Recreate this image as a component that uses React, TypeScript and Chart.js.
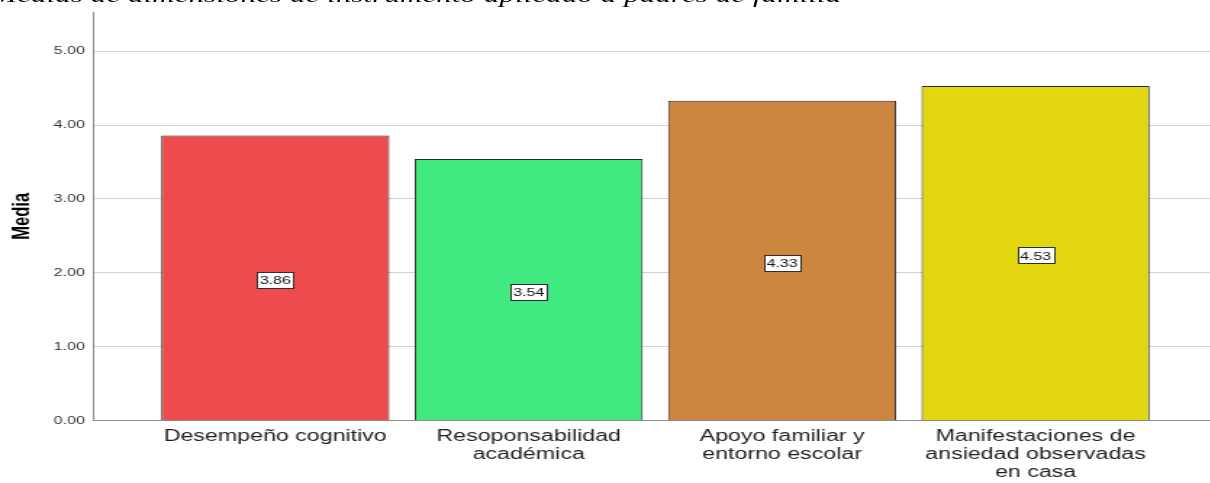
import React, { useEffect, useRef } from "react";
import { Chart, registerables } from "chart.js";

Chart.register(...registerables);

// ---- data ----
const categories: string[][] = [
  ["Desempeño cognitivo"],
  ["Resoponsabilidad", "académica"],
  ["Apoyo familiar y", "entorno escolar"],
  ["Manifestaciones de", "ansiedad observadas", "en casa"],
];
const means: number[] = [3.86, 3.54, 4.33, 4.53];
const barColors: string[] = ["#EE4B4E", "#41EA81", "#CC863F", "#E2D60F"];
const yTickValues: number[] = [0, 1, 2, 3, 4, 5];
const yAxisTitle = "Media";
const chartTitle = "Medias de dimensiones de instrumento aplicado a padres de familia";

// ---- layout ----
const STRETCH = 1.45; // the reference image is stretched horizontally
const W = 840;
const H = 483;
const FONT = '"Liberation Sans", Arial, sans-serif';

const valueLabels = {
  id: "valueLabels",
  afterDatasetsDraw(chart: any) {
    const ctx = chart.ctx as CanvasRenderingContext2D;
    const meta = chart.getDatasetMeta(0);
    ctx.save();
    ctx.font = `11px ${FONT}`;
    meta.data.forEach((bar: any, i: number) => {
      const text = means[i].toFixed(2);
      const cx = bar.x;
      const cy = (bar.y + bar.base) / 2 + 2.5;
      const w = Math.round(ctx.measureText(text).width + 4);
      const h = 16;
      const left = Math.round(cx - w / 2) + 0.5;
      const top = Math.round(cy - h / 2) + 0.5;
      ctx.fillStyle = "#ffffff";
      ctx.fillRect(left, top, w, h);
      ctx.strokeStyle = "#2e2e2e";
      ctx.lineWidth = 1;
      ctx.strokeRect(left, top, w, h);
      ctx.fillStyle = "#111111";
      ctx.textAlign = "center";
      ctx.textBaseline = "middle";
      ctx.fillText(text, cx, cy + 1);
    });
    ctx.restore();
  },
};

export default function App() {
  const canvasRef = useRef<HTMLCanvasElement | null>(null);

  useEffect(() => {
    if (!canvasRef.current) return;
    const chart = new Chart(canvasRef.current, {
      type: "bar",
      data: {
        datasets: [
          {
            data: means.map((v, i) => ({ x: i + 1, y: v })),
            backgroundColor: barColors,
            borderColor: "#2a2a2a",
            borderWidth: 1,
            barPercentage: 0.9,
            categoryPercentage: 1,
          },
        ],
      },
      options: {
        animation: false,
        responsive: false,
        devicePixelRatio: 1,
        layout: { padding: { top: 11, left: 0, right: 0, bottom: 0 } },
        plugins: {
          legend: { display: false },
          tooltip: { enabled: false },
          title: { display: false },
        },
        scales: {
          x: {
            type: "linear",
            min: 0.28,
            max: 4.72,
            offset: false,
            grid: { display: false, drawTicks: false, offset: false },
            border: { display: true, color: "#8a8a8a", width: 1 },
            afterBuildTicks: (scale: any) => {
              scale.ticks = categories.map((_, i) => ({ value: i + 1 }));
            },
            afterFit: (scale: any) => {
              scale.height = H - 420.5;
            },
            ticks: {
              autoSkip: false,
              maxRotation: 0,
              minRotation: 0,
              padding: 7,
              color: "#1e1e1e",
              font: { family: FONT, size: 16, lineHeight: 1.125 },
              callback: (value: any) => categories[Math.round(Number(value)) - 1] ?? "",
            },
          },
          y: {
            type: "linear",
            min: 0,
            max: 5.53,
            afterBuildTicks: (scale: any) => {
              scale.ticks = yTickValues.map((v) => ({ value: v }));
            },
            afterFit: (scale: any) => {
              scale.width = 64;
            },
            grid: { color: "#d3d3d3", lineWidth: 1, drawTicks: false },
            border: { display: true, color: "#8a8a8a", width: 1 },
            ticks: {
              padding: 5.5,
              color: "#333333",
              font: { family: FONT, size: 11 },
              callback: (value: any) => Number(value).toFixed(2),
            },
            title: {
              display: true,
              text: yAxisTitle,
              color: "#000000",
              font: { family: FONT, size: 16.5, weight: "bold" },
              padding: { top: 6, bottom: 0 },
            },
          },
        },
      },
      plugins: [valueLabels],
    } as any);
    return () => chart.destroy();
  }, []);

  return (
    <div
      style={{
        position: "fixed",
        left: 0,
        top: 0,
        width: 1210,
        height: H,
        overflow: "hidden",
        background: "#ffffff",
      }}
    >
      <div
        style={{
          position: "absolute",
          left: 0,
          top: 0,
          width: W,
          height: H,
          transform: `scaleX(${STRETCH})`,
          transformOrigin: "0 0",
        }}
      >
        <canvas ref={canvasRef} width={W} height={H} style={{ display: "block", width: W, height: H }} />
        <div
          style={{
            position: "absolute",
            left: -6,
            top: -16.5,
            fontFamily: '"Liberation Serif", "Times New Roman", serif',
            fontStyle: "italic",
            fontSize: 21.5,
            lineHeight: "22px",
            whiteSpace: "nowrap",
            color: "#000",
          }}
        >
          {chartTitle}
        </div>
      </div>
    </div>
  );
}
